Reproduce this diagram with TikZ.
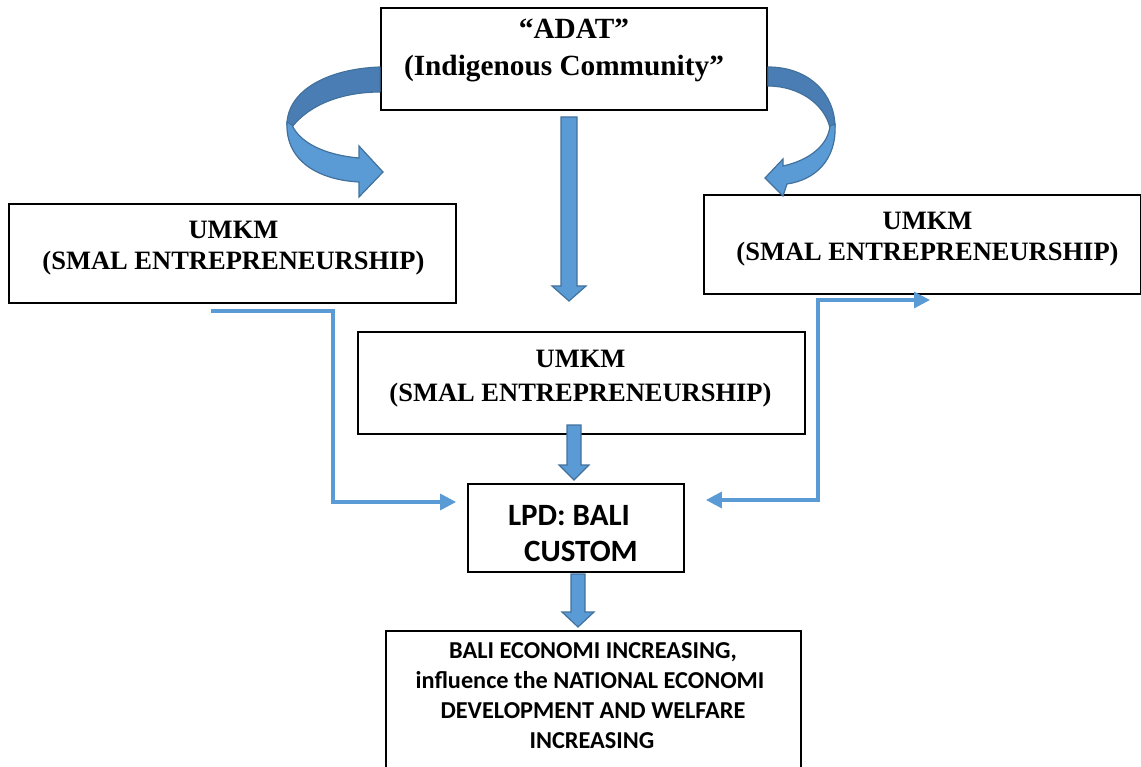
\documentclass[tikz,border=0pt]{standalone}
\usepackage{fontspec}
\setmainfont{Liberation Serif}
\newfontfamily\calib{Carlito}
\usetikzlibrary{calc,arrows.meta}
\definecolor{fillblue}{HTML}{5B9BD5}
\definecolor{edgeblue}{HTML}{41719C}
\definecolor{darkblue}{HTML}{4A7DB4}
\newcommand\blockdown[6]{%
  \draw[block] (#1-#5,#2) -- (#1+#5,#2) -- (#1+#5,#3) -- (#1+#6,#3) -- (#1,#4) -- (#1-#6,#3) -- (#1-#5,#3) -- cycle;}
\begin{document}
\begin{tikzpicture}[x=1pt,y=-1pt,
  box/.style={draw=black, line width=1.8pt, fill=white, inner sep=0pt},
  serif/.style={font=\fontsize{26.5}{31}\selectfont\bfseries, anchor=base, inner sep=0pt},
  serifbig/.style={font=\fontsize{29.3}{33}\selectfont\bfseries, anchor=base, inner sep=0pt},
  calb/.style={font=\calib\fontsize{24.3}{30}\selectfont\bfseries, anchor=base, inner sep=0pt},
  calbbig/.style={font=\calib\fontsize{31}{35}\selectfont\bfseries, anchor=base, inner sep=0pt},
  thinarrow/.style={draw=fillblue, line width=3.2pt, -{Triangle[length=16pt,width=16pt]}},
  dblarrow/.style={draw=fillblue, line width=3.2pt, {Triangle[length=16pt,width=16pt]}-{Triangle[length=16pt,width=16pt]}},
  block/.style={fill=fillblue, draw=edgeblue, line width=1.2pt, line join=miter},
  back/.style={fill=darkblue, draw=edgeblue, line width=1.2pt, line join=round},
]
\useasboundingbox (0,0) rectangle (1141,767);

% boxes
\node[box, minimum width=386pt, minimum height=102pt] (adat) at (574,59) {};
\node[box, minimum width=447pt, minimum height=99pt] (left) at (232.5,253.5) {};
\node[box, minimum width=437pt, minimum height=99pt] (right) at (922.5,244.5) {};
\node[box, minimum width=447pt, minimum height=102pt] (mid) at (581.5,383) {};
\node[box, minimum width=216pt, minimum height=88pt] (lpd) at (576,528) {};
\node[box, minimum width=415pt, minimum height=145pt, anchor=north] (econ) at (593.5,630) {};

% texts
\node[serifbig] (t1) at (574,39) {“ADAT”};
\node[serifbig] (t2) at (564,76) {(Indigenous Community”};
\node[serif] (t3) at (233.5,239) {UMKM};
\node[serif] (t4) at (233.5,270) {(SMAL ENTREPRENEURSHIP)};
\node[serif] (t5) at (927.5,230) {UMKM};
\node[serif] (t6) at (927.5,261) {(SMAL ENTREPRENEURSHIP)};
\node[serif] (t7) at (580.5,367) {UMKM};
\node[serif] (t8) at (580.5,401) {(SMAL ENTREPRENEURSHIP)};
\node[calbbig] (t9) at (569,525) {LPD: BALI};
\node[calbbig] (t10) at (581,561) {CUSTOM};
\node[calb] (t11) at (593,658) {BALI ECONOMI INCREASING,};
\node[calb] (t12) at (590,688) {influence the NATIONAL ECONOMI};
\node[calb] (t13) at (593,718) {DEVELOPMENT AND WELFARE};
\node[calb] (t14) at (592,748) {INCREASING};

% straight block arrows
\blockdown{569}{117}{286}{301}{8}{17}
\blockdown{574}{425}{465}{480}{7}{15}
\blockdown{578}{574}{612}{627}{7}{16}

% left curved arrow
\draw[back] (adat.west |- 0,67) .. controls (325,69) and (287,92) .. (287,125)
  -- (292,127) .. controls (310,104) and (343,92) .. (adat.west |- 0,92) -- cycle;
\draw[block] (287,122) .. controls (285,162) and (320,180) .. (359,182)
  -- (359,197) -- (383,172) -- (359,146) -- (359,158)
  .. controls (325,155) and (300,143) .. (292,125) -- cycle;

% right curved arrow
\draw[back] (adat.east |- 0,67) .. controls (810,67) and (835,95) .. (835,127)
  -- (830,128) .. controls (825,105) and (800,86) .. (adat.east |- 0,86) -- cycle;
\draw[block] (835,124) .. controls (837,160) and (815,180) .. (787,184)
  -- (783,196) -- (765,178) -- (783,159) -- (783,166)
  .. controls (810,160) and (828,145) .. (830,126) -- cycle;

% thin connectors
\coordinate (ls) at (211,311);
\coordinate (lc1) at (333,311);
\coordinate (lc2) at (333,502);
\coordinate (le) at ($(lpd.west)+(-11,-26)$);
\draw[thinarrow] (ls) -- (lc1) -- (lc2) -- (le);

\coordinate (re) at (930,300);
\coordinate (rc1) at (818,300);
\coordinate (rc2) at (818,500);
\coordinate (rl) at ($(lpd.east)+(21,-28)$);
\draw[dblarrow] (re) -- (rc1) -- (rc2) -- (rl);
\end{tikzpicture}
\end{document}
